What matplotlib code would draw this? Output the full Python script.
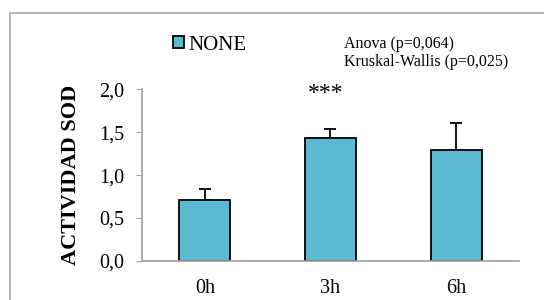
import matplotlib.pyplot as plt
from matplotlib.patches import Rectangle

categories = ["0h", "3h", "6h"]
values = [0.71, 1.43, 1.29]
errors = [0.13, 0.11, 0.31]
yticks = [0.0, 0.5, 1.0, 1.5, 2.0]
ytick_labels = ["0,0", "0,5", "1,0", "1,5", "2,0"]

plt.rcParams['font.family'] = ['Liberation Serif', 'DejaVu Serif']

bar_color = '#5bb9d1'
gray = '#a0a0a0'

fig = plt.figure(figsize=(5.44, 3.0), dpi=100)
# outer chart frame, cut by the right and bottom edges of the picture
fig.patches.append(Rectangle((10 / 544, -0.1), 1.2, 1 - 12.5 / 300 + 0.1, transform=fig.transFigure,
                             fill=False, edgecolor='#a6a6a6', linewidth=1.2))

ax = fig.add_axes([0.261, 0.13, 0.693, 0.573])
x = range(len(categories))
ax.bar(x, values, width=0.405, color=bar_color, edgecolor='black', linewidth=1.3,
       label='NONE', zorder=2)
ax.errorbar(x, values, yerr=[[0] * len(errors), errors], fmt='none', ecolor='black',
            elinewidth=1.3, capsize=4.5, capthick=1.3, zorder=1)

ax.set_xlim(-0.5, 2.5)
ax.set_ylim(0, 2.0)
ax.set_yticks(yticks)
ax.set_yticklabels(ytick_labels)
ax.set_xticks(list(x))
ax.set_xticklabels(categories)
ax.tick_params(axis='y', length=4, color=gray, pad=9, labelsize=14.5)
ax.tick_params(axis='x', length=0, pad=13, labelsize=14.5)
for s in ['top', 'right']:
    ax.spines[s].set_visible(False)
for s in ['left', 'bottom']:
    ax.spines[s].set_color(gray)
    ax.spines[s].set_linewidth(1.2)

ax.set_ylabel('ACTIVIDAD SOD', fontsize=16, fontweight='bold', labelpad=13)

ax.text(1 - 0.04, 1.95, '***', ha='center', va='center', fontsize=17)

fig.legend(loc='center left', bbox_to_anchor=(173 / 544, 1 - 45 / 300), frameon=False,
           fontsize=15, handlelength=0.55, handleheight=0.55, handletextpad=0.2,
           borderpad=0, borderaxespad=0)
fig.text(344 / 544, 1 - 44 / 300, 'Anova (p=0,064)', fontsize=11.5, va='center', ha='left')
fig.text(344 / 544, 1 - 62.5 / 300, 'Kruskal-Wallis (p=0,025)', fontsize=11.5, va='center', ha='left')

fig.savefig('out.png', dpi=100)
